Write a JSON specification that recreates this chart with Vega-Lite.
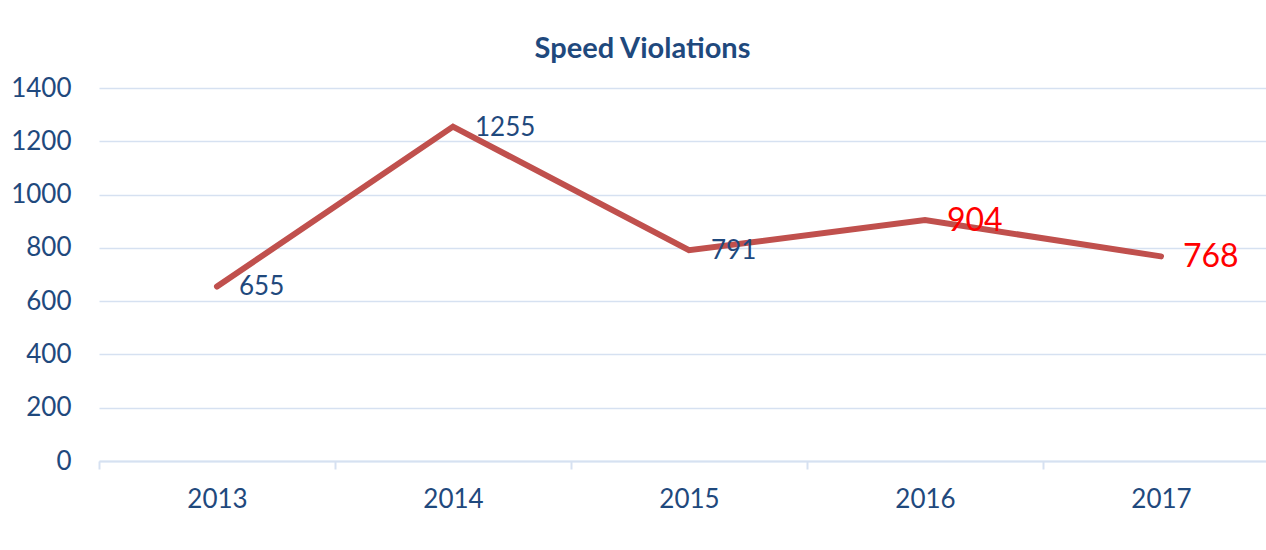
{
  "$schema": "https://vega.github.io/schema/vega-lite/v6.json",
  "width": 1167,
  "height": 373,
  "autosize": "none",
  "padding": {"left": 99, "top": 88, "right": 0, "bottom": 89},
  "background": "white",
  "title": {
    "text": "Speed Violations",
    "font": "Lato",
    "fontSize": 29,
    "fontWeight": "bold",
    "color": "#1F497D",
    "anchor": "middle",
    "dx": -40,
    "offset": 11
  },
  "config": {
    "view": {"stroke": null},
    "font": "Lato"
  },
  "data": {
    "values": [
      {"year": "2013", "violations": 655},
      {"year": "2014", "violations": 1255},
      {"year": "2015", "violations": 791},
      {"year": "2016", "violations": 904},
      {"year": "2017", "violations": 768}
    ]
  },
  "encoding": {
    "x": {
      "field": "year",
      "type": "ordinal",
      "scale": {"type": "band", "range": [0, 1180], "paddingInner": 0, "paddingOuter": 0},
      "axis": {
        "title": null,
        "labelAngle": 0,
        "labelFont": "Lato",
        "labelFontSize": 26,
        "labelColor": "#1F497D",
        "labelPadding": 17,
        "domainColor": "#D6E1F1",
        "domainWidth": 2,
        "ticks": true,
        "tickBand": "extent",
        "tickColor": "#D6E1F1",
        "tickWidth": 2,
        "tickSize": 8,
        "grid": false
      }
    },
    "y": {
      "field": "violations",
      "type": "quantitative",
      "scale": {"domain": [0, 1400], "nice": false},
      "axis": {
        "title": null,
        "format": "d",
        "values": [0, 200, 400, 600, 800, 1000, 1200, 1400],
        "labelFont": "Lato",
        "labelFontSize": 26,
        "labelColor": "#1F497D",
        "labelPadding": 28,
        "ticks": false,
        "tickSize": 0,
        "domain": false,
        "grid": true,
        "gridColor": "#D6E1F1",
        "gridWidth": 1.5
      }
    }
  },
  "layer": [
    {
      "mark": {"type": "line", "color": "#C0504D", "strokeWidth": 6, "strokeCap": "round", "strokeJoin": "miter"}
    },
    {
      "transform": [{"filter": "datum.year < '2016'"}],
      "mark": {"type": "text", "align": "left", "baseline": "middle", "dx": 22, "dy": 1, "font": "Lato", "fontSize": 26, "color": "#1F497D"},
      "encoding": {"text": {"field": "violations", "type": "quantitative", "format": "d"}}
    },
    {
      "transform": [{"filter": "datum.year >= '2016'"}],
      "mark": {"type": "text", "align": "left", "baseline": "middle", "dx": 22, "dy": 1, "font": "Lato", "fontSize": 32, "color": "#FF0000"},
      "encoding": {"text": {"field": "violations", "type": "quantitative", "format": "d"}}
    }
  ]
}
